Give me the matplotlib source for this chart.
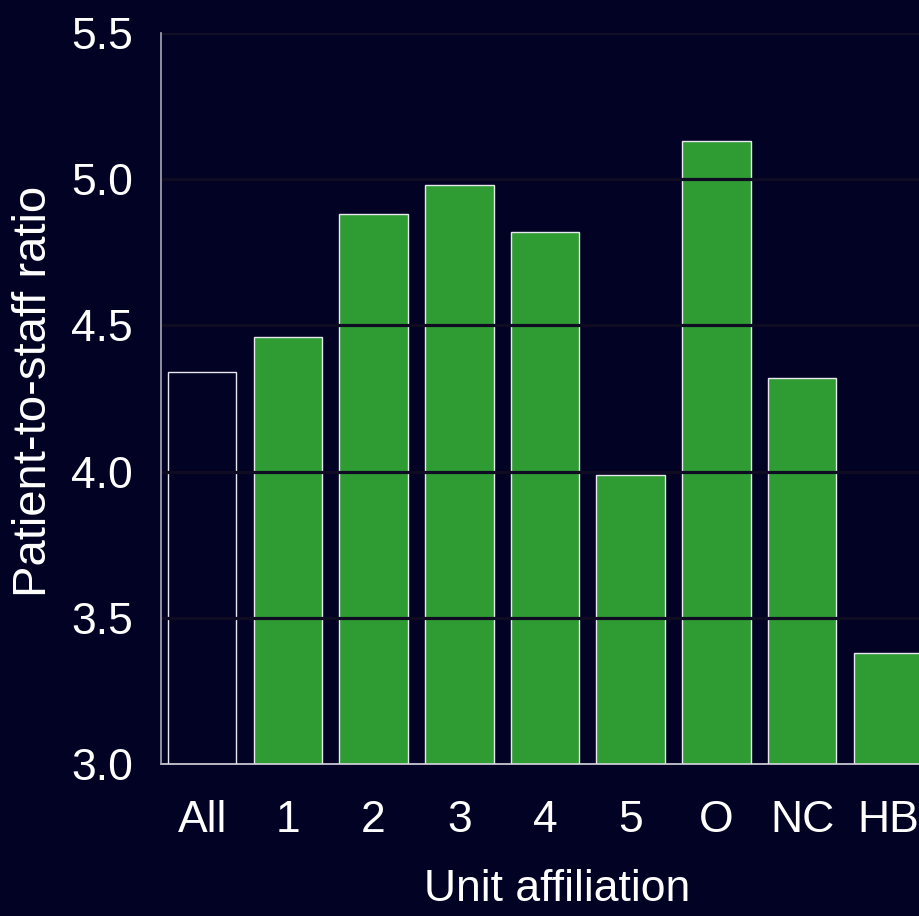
import matplotlib.pyplot as plt

units = ["All", "1", "2", "3", "4", "5", "O", "NC", "HB"]
ratios = [4.34, 4.46, 4.88, 4.98, 4.82, 3.99, 5.13, 4.32, 3.38]
yticks = [3.0, 3.5, 4.0, 4.5, 5.0, 5.5]

bg = "#020224"
green = "#2e9c33"

plt.rcParams["font.family"] = ["Liberation Sans", "DejaVu Sans"]

fig = plt.figure(figsize=(9.2, 9.16), dpi=100, facecolor=bg)
ax = fig.add_axes([161 / 920, 152 / 916, 792 / 920, 731 / 916])
ax.set_facecolor(bg)

colors = [bg] + [green] * (len(units) - 1)
ax.bar(range(len(units)), ratios, width=0.8, bottom=0, color=colors,
       edgecolor="#e8e8ee", linewidth=1.0, zorder=2)

for y in yticks[1:-1]:
    ax.axhline(y, color="#0e0b22", linewidth=2.3, zorder=3)
ax.axhline(5.5, color="#120e26", linewidth=2.3, zorder=3)

ax.set_ylim(3.0, 5.5)
ax.set_xlim(-0.48, 8.76)
ax.set_yticks(yticks)
ax.set_yticklabels([f"{v:.1f}" for v in yticks])
ax.set_xticks(range(len(units)))
ax.set_xticklabels(units)
ax.tick_params(axis="both", length=0, labelsize=32, colors="white")
ax.tick_params(axis="x", pad=26)
ax.tick_params(axis="y", pad=20)

for side in ["top", "right"]:
    ax.spines[side].set_visible(False)
ax.spines["left"].set_color("#a8a8b8")
ax.spines["left"].set_linewidth(1.2)
ax.spines["bottom"].set_color("#d8d8e0")
ax.spines["bottom"].set_linewidth(1.2)
ax.spines["left"].set_zorder(4)

ax.set_ylabel("Patient-to-staff ratio", fontsize=34, color="white")
ax.yaxis.set_label_coords(-0.132, 0.51)
ax.set_xlabel("Unit affiliation", fontsize=32, color="white", labelpad=20)

fig.savefig("out.png", dpi=100, facecolor=bg)
